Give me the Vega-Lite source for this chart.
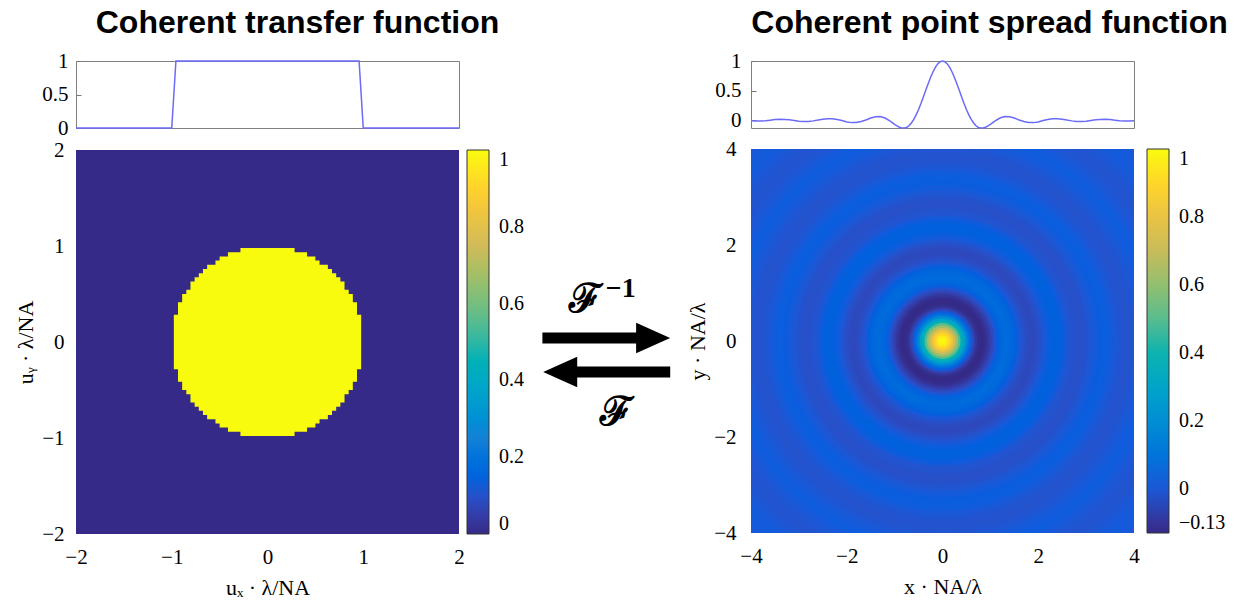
{
  "$schema": "https://vega.github.io/schema/vega-lite/v6.json",
  "background": "white",
  "padding": {"left": 14, "top": 6, "right": 0, "bottom": 0},
  "config": {
    "view": {"stroke": null},
    "axis": {"labelFont": "Liberation Serif", "labelFontSize": 21, "labelColor": "#000", "titleFont": "Liberation Serif", "titleFontSize": 22, "titleFontWeight": "normal", "titleColor": "#000", "grid": false, "domain": false, "ticks": false, "labelFlush": false, "labelOverlap": false, "format": ".2~f"},
    "legend": {"labelFont": "Liberation Serif", "labelFontSize": 20, "labelColor": "#000"},
    "title": {"font": "Liberation Sans", "fontSize": 32, "fontWeight": "bold", "color": "#000", "anchor": "middle", "offset": 10}
  },
  "datasets": {
    "ctf": [
      {"x0": -2, "x1": 2, "y0": -2, "y1": 2, "v": 0},
      {"x0": -0.97826, "x1": 0.97826, "y0": -0.28261, "y1": 0.28261, "v": 1},
      {"x0": -0.93478, "x1": 0.93478, "y0": -0.41304, "y1": 0.41304, "v": 1},
      {"x0": -0.8913, "x1": 0.8913, "y0": -0.5, "y1": 0.5, "v": 1},
      {"x0": -0.84783, "x1": 0.84783, "y0": -0.54348, "y1": 0.54348, "v": 1},
      {"x0": -0.80435, "x1": 0.80435, "y0": -0.63043, "y1": 0.63043, "v": 1},
      {"x0": -0.76087, "x1": 0.76087, "y0": -0.67391, "y1": 0.67391, "v": 1},
      {"x0": -0.71739, "x1": 0.71739, "y0": -0.71739, "y1": 0.71739, "v": 1},
      {"x0": -0.67391, "x1": 0.67391, "y0": -0.76087, "y1": 0.76087, "v": 1},
      {"x0": -0.63043, "x1": 0.63043, "y0": -0.80435, "y1": 0.80435, "v": 1},
      {"x0": -0.54348, "x1": 0.54348, "y0": -0.84783, "y1": 0.84783, "v": 1},
      {"x0": -0.5, "x1": 0.5, "y0": -0.8913, "y1": 0.8913, "v": 1},
      {"x0": -0.41304, "x1": 0.41304, "y0": -0.93478, "y1": 0.93478, "v": 1},
      {"x0": -0.28261, "x1": 0.28261, "y0": -0.97826, "y1": 0.97826, "v": 1}
    ],
    "ctfline": [
      {"x": -2, "v": 0}, {"x": -1, "v": 0}, {"x": -0.9565, "v": 1},
      {"x": 0.9565, "v": 1}, {"x": 1, "v": 0}, {"x": 2, "v": 0}
    ],
    "rings": [
      {"r": 5.75, "v": -0.0036}, {"r": 5.65, "v": 0.0012}, {"r": 5.55, "v": 0.0061}, {"r": 5.45, "v": 0.0086},
      {"r": 5.35, "v": 0.0078}, {"r": 5.25, "v": 0.0041}, {"r": 5.15, "v": -0.0014}, {"r": 5.05, "v": -0.0069},
      {"r": 4.95, "v": -0.0098}, {"r": 4.85, "v": -0.0089}, {"r": 4.75, "v": -0.0047}, {"r": 4.65, "v": 0.0016},
      {"r": 4.55, "v": 0.0081}, {"r": 4.45, "v": 0.0113}, {"r": 4.35, "v": 0.0103}, {"r": 4.25, "v": 0.0054},
      {"r": 4.15, "v": -0.0019}, {"r": 4.05, "v": -0.0095}, {"r": 3.95, "v": -0.0134}, {"r": 3.85, "v": -0.0122},
      {"r": 3.75, "v": -0.0064}, {"r": 3.65, "v": 0.0023}, {"r": 3.55, "v": 0.0115}, {"r": 3.45, "v": 0.0163},
      {"r": 3.35, "v": 0.0148}, {"r": 3.25, "v": 0.0078}, {"r": 3.15, "v": -0.0029}, {"r": 3.05, "v": -0.0146},
      {"r": 2.95, "v": -0.0207}, {"r": 2.85, "v": -0.0189}, {"r": 2.75, "v": -0.0099}, {"r": 2.625, "v": 0.0037},
      {"r": 2.575, "v": 0.0121}, {"r": 2.525, "v": 0.0193}, {"r": 2.475, "v": 0.0245}, {"r": 2.425, "v": 0.0274},
      {"r": 2.375, "v": 0.0277}, {"r": 2.325, "v": 0.0252}, {"r": 2.275, "v": 0.0203}, {"r": 2.225, "v": 0.0133},
      {"r": 2.175, "v": 0.0051}, {"r": 2.125, "v": -0.0051}, {"r": 2.075, "v": -0.0171}, {"r": 2.025, "v": -0.0274},
      {"r": 1.975, "v": -0.0351}, {"r": 1.925, "v": -0.0393}, {"r": 1.875, "v": -0.0397}, {"r": 1.825, "v": -0.0362},
      {"r": 1.775, "v": -0.0292}, {"r": 1.725, "v": -0.0194}, {"r": 1.675, "v": -0.0077}, {"r": 1.625, "v": 0.0061},
      {"r": 1.575, "v": 0.022}, {"r": 1.525, "v": 0.0372}, {"r": 1.475, "v": 0.0505}, {"r": 1.425, "v": 0.0603},
      {"r": 1.375, "v": 0.0644}, {"r": 1.325, "v": 0.0623}, {"r": 1.275, "v": 0.052}, {"r": 1.225, "v": 0.0386},
      {"r": 1.175, "v": 0.0169}, {"r": 1.125, "v": -0.0095}, {"r": 1.075, "v": -0.0377}, {"r": 1.025, "v": -0.0676},
      {"r": 0.975, "v": -0.0948}, {"r": 0.925, "v": -0.1164}, {"r": 0.875, "v": -0.1285}, {"r": 0.825, "v": -0.1313},
      {"r": 0.775, "v": -0.121}, {"r": 0.725, "v": -0.0922}, {"r": 0.675, "v": -0.0459}, {"r": 0.625, "v": 0.0152},
      {"r": 0.575, "v": 0.0906}, {"r": 0.525, "v": 0.1812}, {"r": 0.475, "v": 0.2835}, {"r": 0.425, "v": 0.3929},
      {"r": 0.375, "v": 0.5057}, {"r": 0.325, "v": 0.6167}, {"r": 0.275, "v": 0.7217}, {"r": 0.225, "v": 0.8152},
      {"r": 0.175, "v": 0.893}, {"r": 0.125, "v": 0.9515}, {"r": 0.075, "v": 0.9877}, {"r": 0.025, "v": 1}
    ],
    "psfline": [
      {"x": -4.0, "v": -0.0095}, {"x": -3.9, "v": -0.0134}, {"x": -3.8, "v": -0.0122}, {"x": -3.7, "v": -0.0064},
      {"x": -3.6, "v": 0.0023}, {"x": -3.5, "v": 0.0115}, {"x": -3.4, "v": 0.0163}, {"x": -3.3, "v": 0.0148},
      {"x": -3.2, "v": 0.0078}, {"x": -3.1, "v": -0.0029}, {"x": -3.0, "v": -0.0146}, {"x": -2.9, "v": -0.0207},
      {"x": -2.8, "v": -0.0189}, {"x": -2.7, "v": -0.0099}, {"x": -2.6, "v": 0.0037}, {"x": -2.5, "v": 0.0193},
      {"x": -2.4, "v": 0.0274}, {"x": -2.3, "v": 0.0252}, {"x": -2.2, "v": 0.0133}, {"x": -2.1, "v": -0.0051},
      {"x": -2.0, "v": -0.0274}, {"x": -1.9, "v": -0.0393}, {"x": -1.8, "v": -0.0362}, {"x": -1.7, "v": -0.0194},
      {"x": -1.6, "v": 0.0061}, {"x": -1.5, "v": 0.0372}, {"x": -1.4, "v": 0.0603}, {"x": -1.3, "v": 0.0623},
      {"x": -1.2, "v": 0.0386}, {"x": -1.1, "v": -0.0095}, {"x": -1.05, "v": -0.0377}, {"x": -1.0, "v": -0.0676},
      {"x": -0.95, "v": -0.0948}, {"x": -0.9, "v": -0.1164}, {"x": -0.85, "v": -0.1285}, {"x": -0.8, "v": -0.1313},
      {"x": -0.75, "v": -0.121}, {"x": -0.7, "v": -0.0922}, {"x": -0.65, "v": -0.0459}, {"x": -0.6, "v": 0.0152},
      {"x": -0.55, "v": 0.0906}, {"x": -0.5, "v": 0.1812}, {"x": -0.45, "v": 0.2835}, {"x": -0.4, "v": 0.3929},
      {"x": -0.35, "v": 0.5057}, {"x": -0.3, "v": 0.6167}, {"x": -0.25, "v": 0.7217}, {"x": -0.2, "v": 0.8152},
      {"x": -0.15, "v": 0.893}, {"x": -0.1, "v": 0.9515}, {"x": -0.05, "v": 0.9877}, {"x": 0, "v": 1},
      {"x": 0.05, "v": 0.9877}, {"x": 0.1, "v": 0.9515}, {"x": 0.15, "v": 0.893}, {"x": 0.2, "v": 0.8152},
      {"x": 0.25, "v": 0.7217}, {"x": 0.3, "v": 0.6167}, {"x": 0.35, "v": 0.5057}, {"x": 0.4, "v": 0.3929},
      {"x": 0.45, "v": 0.2835}, {"x": 0.5, "v": 0.1812}, {"x": 0.55, "v": 0.0906}, {"x": 0.6, "v": 0.0152},
      {"x": 0.65, "v": -0.0459}, {"x": 0.7, "v": -0.0922}, {"x": 0.75, "v": -0.121}, {"x": 0.8, "v": -0.1313},
      {"x": 0.85, "v": -0.1285}, {"x": 0.9, "v": -0.1164}, {"x": 0.95, "v": -0.0948}, {"x": 1.0, "v": -0.0676},
      {"x": 1.05, "v": -0.0377}, {"x": 1.1, "v": -0.0095}, {"x": 1.2, "v": 0.0386}, {"x": 1.3, "v": 0.0623},
      {"x": 1.4, "v": 0.0603}, {"x": 1.5, "v": 0.0372}, {"x": 1.6, "v": 0.0061}, {"x": 1.7, "v": -0.0194},
      {"x": 1.8, "v": -0.0362}, {"x": 1.9, "v": -0.0393}, {"x": 2.0, "v": -0.0274}, {"x": 2.1, "v": -0.0051},
      {"x": 2.2, "v": 0.0133}, {"x": 2.3, "v": 0.0252}, {"x": 2.4, "v": 0.0274}, {"x": 2.5, "v": 0.0193},
      {"x": 2.6, "v": 0.0037}, {"x": 2.7, "v": -0.0099}, {"x": 2.8, "v": -0.0189}, {"x": 2.9, "v": -0.0207},
      {"x": 3.0, "v": -0.0146}, {"x": 3.1, "v": -0.0029}, {"x": 3.2, "v": 0.0078}, {"x": 3.3, "v": 0.0148},
      {"x": 3.4, "v": 0.0163}, {"x": 3.5, "v": 0.0115}, {"x": 3.6, "v": 0.0023}, {"x": 3.7, "v": -0.0064},
      {"x": 3.8, "v": -0.0122}, {"x": 3.9, "v": -0.0134}, {"x": 4.0, "v": -0.0095}
    ],
    "shafts": [
      {"x0": 0.06, "x1": 0.78, "y": 0.4774},
      {"x0": 0.26, "x1": 0.973, "y": 0.4132}
    ],
    "heads": [
      {"x": 0.851, "y": 0.4774, "dir": "right"},
      {"x": 0.187, "y": 0.4132, "dir": "left"}
    ],
    "ops": [
      {"label": "ℱ", "x": 0.37, "y": 0.549},
      {"label": "ℱ", "x": 0.59, "y": 0.336}
    ],
    "sups": [
      {"label": "−1", "x": 0.62, "y": 0.569}
    ]
  },
  "resolve": {"scale": {"color": "independent"}, "legend": {"color": "independent"}},
  "spacing": 10,
  "hconcat": [
    {
      "spacing": 0,
      "resolve": {"scale": {"color": "independent"}, "legend": {"color": "independent"}},
      "vconcat": [
        {
          "width": 383, "height": 67,
          "title": {"text": "Coherent transfer function", "dx": 30},
          "view": {"stroke": "#808080", "strokeWidth": 1},
          "data": {"name": "ctfline"},
          "mark": {"type": "line", "color": "#6b6bf7", "strokeWidth": 1.5},
          "encoding": {
            "x": {"field": "x", "type": "quantitative", "scale": {"domain": [-2, 2], "nice": false, "zero": false}, "axis": null},
            "y": {"field": "v", "type": "quantitative", "scale": {"domain": [0, 1], "nice": false},
                  "axis": {"values": [0, 0.5, 1], "title": null, "ticks": true, "tickSize": -5, "tickColor": "#777", "labelPadding": 13}}
          }
        },
        {
          "width": 383, "height": 384,
          "layer": [
            {
              "data": {"name": "ctf"},
              "mark": {"type": "rect"},
              "encoding": {
                "x": {"field": "x0", "type": "quantitative", "scale": {"domain": [-2, 2], "nice": false, "zero": false},
                      "axis": {"values": [-2, -1, 0, 1, 2], "title": "uₓ · λ/NA", "labelPadding": 12, "titlePadding": 10}},
                "x2": {"field": "x1"},
                "y": {"field": "y0", "type": "quantitative", "scale": {"domain": [-2, 2], "nice": false, "zero": false},
                      "axis": {"values": [-2, -1, 0, 1, 2], "title": "uᵧ · λ/NA", "labelPadding": 12, "titlePadding": 4}},
                "y2": {"field": "y1"},
                "color": {"field": "v", "type": "quantitative",
                          "scale": {"domain": [0, 0.125, 0.25, 0.375, 0.5, 0.625, 0.75, 0.875, 1],
                                    "range": ["#352a87", "#0f5cdd", "#1481d6", "#06a4ca", "#2eb7a4", "#87bf77", "#d1bb59", "#fec832", "#f9fb0e"]},
                          "legend": {"orient": "none", "legendX": 391, "legendY": 0, "direction": "vertical", "title": null,
                                     "gradientLength": 384, "gradientThickness": 22, "gradientStrokeColor": "#333", "gradientStrokeWidth": 1,
                                     "values": [0, 0.2, 0.4, 0.6, 0.8, 1], "format": ".2~f", "labelOffset": 10, "labelOverlap": false}}
              }
            },
            {
              "mark": {"type": "rule", "color": "black", "strokeWidth": 3, "strokeDash": [10, 6]},
              "encoding": {"y": {"datum": 0, "type": "quantitative"}}
            }
          ]
        }
      ]
    },
    {
      "width": 140, "height": 530,
      "layer": [
        {
          "data": {"name": "shafts"},
          "mark": {"type": "rule", "color": "black", "strokeWidth": 11},
          "encoding": {
            "x": {"field": "x0", "type": "quantitative", "scale": {"domain": [0, 1]}, "axis": null},
            "x2": {"field": "x1"},
            "y": {"field": "y", "type": "quantitative", "scale": {"domain": [0, 1]}, "axis": null}
          }
        },
        {
          "data": {"name": "heads"},
          "transform": [{"filter": "datum.dir == 'right'"}],
          "mark": {"type": "point", "shape": "M -1,-0.9 L 1,0 L -1,0.9 Z", "filled": true, "color": "black", "opacity": 1, "size": 1156},
          "encoding": {
            "x": {"field": "x", "type": "quantitative"},
            "y": {"field": "y", "type": "quantitative"}
          }
        },
        {
          "data": {"name": "heads"},
          "transform": [{"filter": "datum.dir == 'left'"}],
          "mark": {"type": "point", "shape": "M 1,-0.9 L -1,0 L 1,0.9 Z", "filled": true, "color": "black", "opacity": 1, "size": 1156},
          "encoding": {
            "x": {"field": "x", "type": "quantitative"},
            "y": {"field": "y", "type": "quantitative"}
          }
        },
        {
          "data": {"name": "ops"},
          "mark": {"type": "text", "font": "DejaVu Serif", "fontSize": 40, "fontWeight": "bold", "color": "black"},
          "encoding": {
            "x": {"field": "x", "type": "quantitative"},
            "y": {"field": "y", "type": "quantitative"},
            "text": {"field": "label"}
          }
        },
        {
          "data": {"name": "sups"},
          "mark": {"type": "text", "font": "Liberation Serif", "fontSize": 28, "fontWeight": "bold", "color": "black"},
          "encoding": {
            "x": {"field": "x", "type": "quantitative"},
            "y": {"field": "y", "type": "quantitative"},
            "text": {"field": "label"}
          }
        }
      ]
    },
    {
      "spacing": 6,
      "resolve": {"scale": {"color": "independent"}, "legend": {"color": "independent"}},
      "vconcat": [
        {
          "width": 383, "height": 67,
          "title": {"text": "Coherent point spread function", "dx": 47},
          "view": {"stroke": "#808080", "strokeWidth": 1},
          "data": {"name": "psfline"},
          "mark": {"type": "line", "color": "#6b6bf7", "strokeWidth": 1.5},
          "encoding": {
            "x": {"field": "x", "type": "quantitative", "scale": {"domain": [-4, 4], "nice": false, "zero": false}, "axis": null},
            "y": {"field": "v", "type": "quantitative", "scale": {"domain": [-0.13, 1], "nice": false, "zero": false},
                  "axis": {"values": [0, 0.5, 1], "title": null, "ticks": true, "tickSize": -5, "tickColor": "#777", "labelPadding": 15}}
          }
        },
        {
          "width": 383, "height": 384,
          "layer": [
            {
              "data": {"name": "rings"},
              "mark": {"type": "arc", "theta": 0, "theta2": 6.2832, "clip": true},
              "encoding": {
                "x": {"datum": 0, "type": "quantitative", "scale": {"domain": [-4, 4], "nice": false, "zero": false},
                      "axis": {"values": [-4, -2, 0, 2, 4], "title": "x · NA/λ", "labelPadding": 12, "titlePadding": 10}},
                "y": {"datum": 0, "type": "quantitative", "scale": {"domain": [-4, 4], "nice": false, "zero": false},
                      "axis": {"values": [-4, -2, 0, 2, 4], "title": "y · NA/λ", "labelPadding": 15, "titlePadding": 4}},
                "radius": {"field": "r", "type": "quantitative", "stack": null, "scale": {"type": "linear", "domain": [0, 4], "range": [0, 191.5], "zero": true}},
                "color": {"field": "v", "type": "quantitative",
                          "scale": {"domain": [-0.13, 0.01125, 0.1525, 0.29375, 0.435, 0.57625, 0.7175, 0.85875, 1],
                                    "range": ["#352a87", "#0f5cdd", "#1481d6", "#06a4ca", "#2eb7a4", "#87bf77", "#d1bb59", "#fec832", "#f9fb0e"]},
                          "legend": {"orient": "none", "legendX": 396, "legendY": 0, "direction": "vertical", "title": null,
                                     "gradientLength": 384, "gradientThickness": 22, "gradientStrokeColor": "#333", "gradientStrokeWidth": 1,
                                     "values": [-0.13, 0, 0.2, 0.4, 0.6, 0.8, 1], "format": ".2~f", "labelOffset": 10, "labelOverlap": false}}
              }
            },
            {
              "mark": {"type": "rule", "color": "black", "strokeWidth": 3, "strokeDash": [10, 6]},
              "encoding": {"y": {"datum": 0, "type": "quantitative"}}
            }
          ]
        }
      ]
    }
  ]
}
